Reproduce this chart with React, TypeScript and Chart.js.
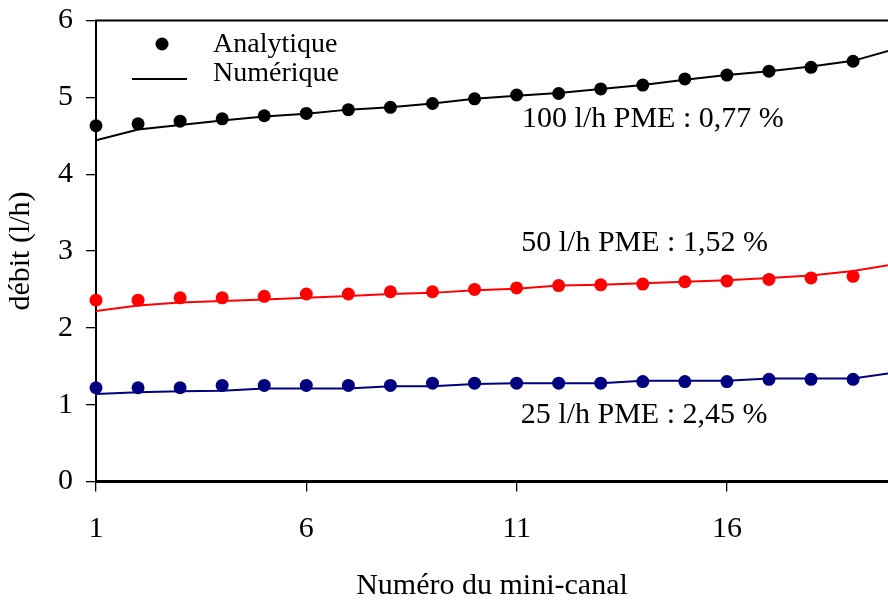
import React, { useEffect, useRef } from 'react';
import { Chart, registerables } from 'chart.js';

Chart.register(...registerables);

// ---- data ----
const channels = [1, 2, 3, 4, 5, 6, 7, 8, 9, 10, 11, 12, 13, 14, 15, 16, 17, 18, 19];
const numericChannels = [1, 2, 3, 4, 5, 6, 7, 8, 9, 10, 11, 12, 13, 14, 15, 16, 17, 18, 19, 20];

const analytic100 = [4.63, 4.655, 4.69, 4.72, 4.76, 4.79, 4.84, 4.87, 4.92, 4.98, 5.03, 5.05, 5.11, 5.16, 5.24, 5.29, 5.34, 5.39, 5.47];
const numeric100 = [4.44, 4.58, 4.64, 4.7, 4.75, 4.785, 4.84, 4.87, 4.92, 4.98, 5.02, 5.055, 5.11, 5.16, 5.23, 5.29, 5.34, 5.4, 5.475, 5.63];

const analytic50 = [2.36, 2.36, 2.39, 2.39, 2.41, 2.44, 2.44, 2.47, 2.47, 2.5, 2.52, 2.55, 2.56, 2.57, 2.6, 2.61, 2.63, 2.65, 2.67];
const numeric50 = [2.22, 2.29, 2.33, 2.35, 2.37, 2.39, 2.415, 2.44, 2.455, 2.49, 2.51, 2.55, 2.56, 2.58, 2.6, 2.62, 2.65, 2.68, 2.74, 2.83];

const analytic25 = [1.22, 1.22, 1.22, 1.25, 1.25, 1.25, 1.25, 1.25, 1.28, 1.28, 1.28, 1.28, 1.28, 1.3, 1.3, 1.3, 1.33, 1.33, 1.33];
const numeric25 = [1.14, 1.16, 1.175, 1.18, 1.21, 1.21, 1.21, 1.24, 1.24, 1.27, 1.28, 1.28, 1.28, 1.31, 1.31, 1.31, 1.34, 1.34, 1.34, 1.42];

const xTickValues = [1, 6, 11, 16];
const legendLabels = ['Analytique', 'Numérique'];
const seriesNotes = ['100 l/h PME : 0,77 %', '50 l/h PME : 1,52 %', '25 l/h PME : 2,45 %'];
const xTitle = 'Numéro du mini-canal';
const yTitle = 'débit (l/h)';

// ---- styles ----
const FONT = "'Liberation Serif', 'Times New Roman', serif";
const BLACK = '#000000';
const RED = '#ff0000';
const NAVY = '#000080';
const NOTE_ANCHORS = [
  { x: 11.13, y: 4.61 },
  { x: 11.11, y: 3.0 },
  { x: 11.1, y: 0.755 },
];

const toPoints = (xs: number[], ys: number[]) => ys.map((y, i) => ({ x: xs[i], y }));

const overlayPlugin = {
  id: 'overlay',
  afterDatasetsDraw(chart: any) {
    const { ctx, chartArea, scales } = chart;
    const { left, top, right } = chartArea;
    ctx.save();
    // top frame line
    ctx.strokeStyle = BLACK;
    ctx.lineWidth = 2;
    ctx.beginPath();
    ctx.moveTo(left - 1, top);
    ctx.lineTo(right, top);
    ctx.stroke();

    // series notes
    ctx.fillStyle = BLACK;
    ctx.textAlign = 'left';
    ctx.textBaseline = 'alphabetic';
    ctx.font = `30px ${FONT}`;
    seriesNotes.forEach((t, i) => {
      const a = NOTE_ANCHORS[i];
      ctx.fillText(t, scales.x.getPixelForValue(a.x), scales.y.getPixelForValue(a.y));
    });

    // legend
    ctx.font = `28px ${FONT}`;
    ctx.beginPath();
    ctx.arc(left + 66, top + 23.5, 6.5, 0, Math.PI * 2);
    ctx.fill();
    ctx.fillText(legendLabels[0], left + 117, top + 31);
    ctx.lineWidth = 2;
    ctx.beginPath();
    ctx.moveTo(left + 36, top + 58.5);
    ctx.lineTo(left + 91, top + 58.5);
    ctx.stroke();
    ctx.fillText(legendLabels[1], left + 117, top + 60.5);
    ctx.restore();
  },
};

const zeroPadding = (scale: any) => {
  scale.paddingTop = 0;
  scale.paddingBottom = 0;
  scale.paddingLeft = 0;
  scale.paddingRight = 0;
};

export default function App() {
  const canvasRef = useRef<HTMLCanvasElement | null>(null);

  useEffect(() => {
    if (!canvasRef.current) return;
    Chart.defaults.font.family = FONT;
    Chart.defaults.color = BLACK;

    const dotSet = (label: string, ys: number[], color: string) => ({
      label,
      data: toPoints(channels, ys),
      showLine: false,
      pointRadius: 6.5,
      pointHoverRadius: 6.5,
      pointBackgroundColor: color,
      pointBorderWidth: 0,
      borderColor: color,
      backgroundColor: color,
      clip: false as any,
      order: 0,
    });
    const lineSet = (label: string, ys: number[], color: string) => ({
      label,
      data: toPoints(numericChannels, ys),
      showLine: true,
      pointRadius: 0,
      borderColor: color,
      borderWidth: 2,
      tension: 0,
      fill: false,
      clip: 0 as any,
      order: 1,
    });

    const chart = new Chart(canvasRef.current, {
      type: 'line',
      data: {
        datasets: [
          dotSet('Analytique 100', analytic100, BLACK),
          dotSet('Analytique 50', analytic50, RED),
          dotSet('Analytique 25', analytic25, NAVY),
          lineSet('Numérique 100', numeric100, BLACK),
          lineSet('Numérique 50', numeric50, RED),
          lineSet('Numérique 25', numeric25, NAVY),
        ],
      },
      options: {
        animation: false,
        responsive: false,
        devicePixelRatio: 1,
        layout: { autoPadding: false, padding: { top: 20.5, right: 0, bottom: 0, left: 0 } },
        plugins: {
          legend: { display: false },
          tooltip: { enabled: false },
        },
        events: [],
        scales: {
          x: {
            type: 'linear',
            min: 1,
            max: 19.83,
            afterBuildTicks: (scale: any) => {
              scale.ticks = xTickValues.map((v) => ({ value: v }));
            },
            afterFit: (scale: any) => {
              scale.height = 119.5;
              zeroPadding(scale);
            },
            ticks: {
              font: { size: 30, lineHeight: 1.2 },
              color: BLACK,
              padding: 20,
              maxRotation: 0,
              autoSkip: false,
            },
            grid: {
              drawOnChartArea: false,
              drawTicks: true,
              tickLength: 10,
              color: BLACK,
              lineWidth: 1.3,
            },
            border: { display: true, color: BLACK, width: 3 },
            title: {
              display: true,
              text: xTitle,
              font: { size: 30, lineHeight: 1 },
              color: BLACK,
              padding: { top: 0, bottom: 0 },
            },
          },
          y: {
            type: 'linear',
            min: 0,
            max: 6,
            afterFit: (scale: any) => {
              scale.width = 96;
              zeroPadding(scale);
            },
            ticks: {
              stepSize: 1,
              font: { size: 30, lineHeight: 1.2 },
              color: BLACK,
              padding: 13,
            },
            grid: {
              drawOnChartArea: false,
              drawTicks: true,
              tickLength: 10,
              color: BLACK,
              lineWidth: 1.3,
            },
            border: { display: true, color: BLACK, width: 2 },
            title: {
              display: true,
              text: yTitle,
              font: { size: 30, lineHeight: 1 },
              color: BLACK,
              padding: { top: 6, bottom: 0 },
            },
          },
        },
      },
      plugins: [overlayPlugin],
    } as any);

    return () => chart.destroy();
  }, []);

  return (
    <div style={{ position: 'fixed', left: 0, top: 0, width: 888, height: 601, background: '#fff' }}>
      <canvas ref={canvasRef} width={888} height={601} style={{ display: 'block', width: 888, height: 601 }} />
    </div>
  );
}
